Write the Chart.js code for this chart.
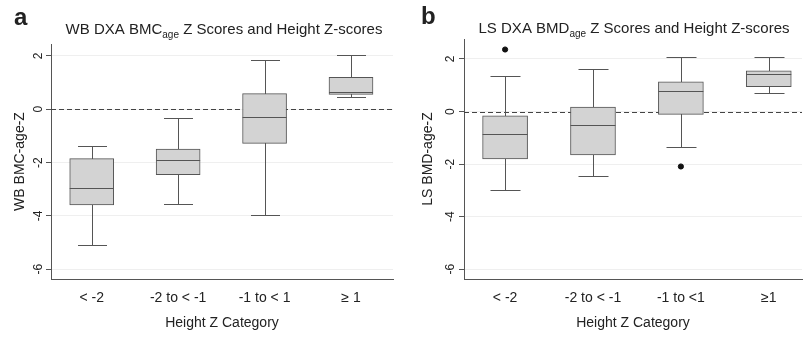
<!DOCTYPE html>
<html>
<head>
<meta charset="utf-8">
<script src="https://cdn.jsdelivr.net/npm/chart.js@4.4.1/dist/chart.umd.min.js"></script>
<style>
  body { margin: 0; background: #fff; }
  #wrap { position: relative; width: 807px; height: 339px; overflow: hidden; }
  canvas { position: absolute; top: 0; }
</style>
</head>
<body>
<div id="wrap">
  <canvas id="panelA" width="400" height="339" style="left:0"></canvas>
  <canvas id="panelB" width="407" height="339" style="left:400px"></canvas>
</div>
<script>
// categories and tick labels
const categoriesA = ['< -2', '-2 to < -1', '-1 to < 1', '≥ 1'];
const categoriesB = ['< -2', '-2 to < -1', '-1 to <1', '≥1'];
const yTicks = [-6, -4, -2, 0, 2];

// WB DXA BMC-age Z (panel a)
const wbMin    = [-5.09, -3.56, -3.96, 0.47];
const wbQ1     = [-3.59, -2.45, -1.28, 0.56];
const wbMedian = [-2.96, -1.89, -0.30, 0.65];
const wbQ3     = [-1.85, -1.49, 0.59, 1.20];
const wbMax    = [-1.38, -0.31, 1.85, 2.05];

// LS DXA BMD-age Z (panel b)
const lsMin    = [-2.98, -2.44, -1.33, 0.71];
const lsQ1     = [-1.80, -1.65, -0.11, 0.95];
const lsMedian = [-0.86, -0.52, 0.80, 1.43];
const lsQ3     = [-0.16, 0.17, 1.13, 1.55];
const lsMax    = [1.36, 1.61, 2.09, 2.08];
const lsOutlierCat = [1, 3];
const lsOutlierVal = [2.36, -2.09];

const FONT = '"Liberation Sans", Arial, Helvetica, sans-serif';
Chart.defaults.font.family = FONT;
Chart.defaults.color = '#222';

const LINE = '#555';

// whiskers, medians, zero line and the titles
const boxParts = {
  id: 'boxParts',
  beforeDatasetsDraw(chart, args, o) {
    const { ctx, chartArea, scales: { x, y } } = chart;
    ctx.save();
    ctx.strokeStyle = '#444';
    ctx.lineWidth = 1;
    ctx.setLineDash([5, 3]);
    const y0 = Math.round(y.getPixelForValue(0)) + 0.5;
    ctx.beginPath();
    ctx.moveTo(chartArea.left, y0);
    ctx.lineTo(chartArea.right, y0);
    ctx.stroke();
    ctx.setLineDash([]);
    ctx.strokeStyle = LINE;
    o.lo.forEach((lo, i) => {
      const px = Math.round(x.getPixelForValue(i + 1)) + 0.5;
      const pLo = Math.round(y.getPixelForValue(lo)) + 0.5;
      const pHi = Math.round(y.getPixelForValue(o.hi[i])) + 0.5;
      ctx.beginPath();
      ctx.moveTo(px, pLo); ctx.lineTo(px, pHi);
      ctx.moveTo(px - o.cap / 2, pLo); ctx.lineTo(px + o.cap / 2, pLo);
      ctx.moveTo(px - o.cap / 2, pHi); ctx.lineTo(px + o.cap / 2, pHi);
      ctx.stroke();
    });
    ctx.restore();
  },
  afterDatasetsDraw(chart, args, o) {
    const { ctx, scales: { x, y } } = chart;
    ctx.save();
    ctx.strokeStyle = LINE;
    ctx.lineWidth = 1;
    o.med.forEach((m, i) => {
      const px = x.getPixelForValue(i + 1);
      const py = Math.round(y.getPixelForValue(m)) + 0.5;
      ctx.beginPath();
      ctx.moveTo(px - o.box / 2, py); ctx.lineTo(px + o.box / 2, py);
      ctx.stroke();
    });
    ctx.restore();
  },
  afterDraw(chart, args, o) {
    const ctx = chart.ctx;
    ctx.save();
    ctx.fillStyle = '#222';
    ctx.textBaseline = 'alphabetic';
    // panel letter
    ctx.font = 'bold 24px ' + FONT;
    ctx.fillText(o.letter, o.letterX, o.letterY);
    // title with subscript
    const parts = [[o.title[0], 15, 0], [o.title[1], 10, 4], [o.title[2], 15, 0]];
    let total = 0;
    parts.forEach(p => { ctx.font = p[1] + 'px ' + FONT; total += ctx.measureText(p[0]).width; });
    let tx = o.titleX - total / 2;
    parts.forEach(p => {
      ctx.font = p[1] + 'px ' + FONT;
      ctx.fillText(p[0], tx, o.titleY + p[2]);
      tx += ctx.measureText(p[0]).width;
    });
    ctx.restore();
  }
};

function makePanel(id, p) {
  const ctx = document.getElementById(id).getContext('2d');
  const datasets = [{
    type: 'bar',
    data: p.q1.map((q, i) => ({ x: i + 1, y: [q, p.q3[i]] })),
    backgroundColor: '#d3d3d3',
    borderColor: LINE,
    borderWidth: 1,
    borderSkipped: false,
    barThickness: p.box
  }];
  if (p.outCat) {
    datasets.push({
      type: 'scatter',
      data: p.outCat.map((c, i) => ({ x: c, y: p.outVal[i] })),
      backgroundColor: '#111',
      borderColor: '#111',
      pointRadius: 2.6
    });
  }
  return new Chart(ctx, {
    type: 'bar',
    data: { datasets },
    options: {
      responsive: false,
      animation: false,
      layout: { padding: { top: p.top, right: p.right, left: 0, bottom: 0 } },
      plugins: {
        legend: { display: false },
        tooltip: { enabled: false },
        boxParts: {
          lo: p.lo, hi: p.hi, med: p.med, box: p.box, cap: p.cap,
          letter: p.letter, letterX: p.letterX, letterY: p.letterY,
          title: p.title, titleX: p.titleX, titleY: p.titleY
        }
      },
      scales: {
        x: {
          type: 'linear',
          offset: false,
          min: p.xMin, max: p.xMax,
          afterBuildTicks: s => { s.ticks = p.categories.map((c, i) => ({ value: i + 1 })); },
          afterFit: s => { s.height = 60; },
          border: { color: LINE },
          grid: { display: false, drawTicks: false },
          ticks: {
            autoSkip: false, maxRotation: 0, padding: 11,
            font: { size: 14 }, color: '#222',
            callback: v => p.categories[v - 1]
          },
          title: { display: true, text: 'Height Z Category', font: { size: 14 }, color: '#222', padding: { top: 0, bottom: 7 } }
        },
        y: {
          min: p.yMin, max: p.yMax,
          afterBuildTicks: s => { s.ticks = yTicks.map(v => ({ value: v })); },
          afterFit: s => { s.width = p.yWidth; },
          border: { color: LINE },
          grid: { color: '#efefef', tickColor: LINE, tickLength: 5 },
          ticks: { minRotation: 90, maxRotation: 90, crossAlign: 'center', padding: p.tickPad, font: { size: 12 }, color: '#222' },
          title: { display: true, text: p.yTitle, font: { size: 14 }, color: '#222', padding: { top: p.yTitlePad, bottom: 0 } }
        }
      }
    },
    plugins: [boxParts]
  });
}

makePanel('panelA', {
  categories: categoriesA,
  lo: wbMin, q1: wbQ1, med: wbMedian, q3: wbQ3, hi: wbMax,
  box: 44, cap: 29,
  xMin: 0.529, xMax: 4.486, yMin: -6.37, yMax: 2.45,
  top: 44, right: 7, yWidth: 51, tickPad: 2, yTitlePad: 12,
  yTitle: 'WB BMC-age-Z',
  letter: 'a', letterX: 14, letterY: 25,
  title: ['WB DXA BMC', 'age', ' Z Scores and Height Z-scores'], titleX: 224, titleY: 34
});

makePanel('panelB', {
  categories: categoriesB,
  lo: lsMin, q1: lsQ1, med: lsMedian, q3: lsQ3, hi: lsMax,
  outCat: lsOutlierCat, outVal: lsOutlierVal,
  box: 45, cap: 30,
  xMin: 0.5325, xMax: 4.378, yMin: -6.37, yMax: 2.76,
  top: 39, right: 0, yWidth: 64, tickPad: 3, yTitlePad: 20,
  yTitle: 'LS BMD-age-Z',
  letter: 'b', letterX: 21, letterY: 24,
  title: ['LS DXA BMD', 'age', ' Z Scores and Height Z-scores'], titleX: 234, titleY: 33
});
</script>
</body>
</html>
